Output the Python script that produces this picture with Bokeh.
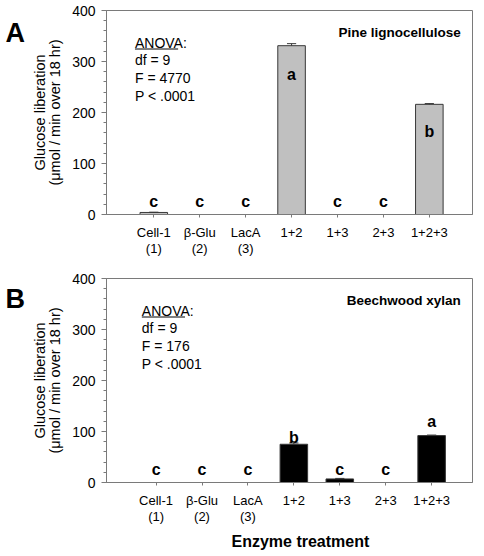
from bokeh.plotting import figure
from bokeh.models import Label, FixedTicker, Range1d, Title
from bokeh.layouts import column, row
from bokeh.embed import file_html
from bokeh.resources import INLINE

categories = ["Cell-1\n(1)", "β-Glu\n(2)", "LacA\n(3)", "1+2", "1+3", "2+3", "1+2+3"]
positions = [1, 2, 3, 4, 5, 6, 7]

pine_glucose = [4, 0, 0, 331, 0, 0, 216]
pine_error = [0.5, 0, 0, 4, 0, 0, 1.5]
pine_letters = ["c", "c", "c", "a", "c", "c", "b"]
pine_letter_y = [25, 25, 25, 275, 25, 25, 162]

beech_glucose = [0, 0, 0, 75, 7, 0, 92]
beech_error = [0, 0, 0, 2.5, 1, 0, 1]
beech_letters = ["c", "c", "c", "b", "c", "c", "a"]
beech_letter_y = [25, 25, 25, 88, 25, 25, 120]

y_ticks = [0, 100, 200, 300, 400]
y_minor = list(range(0, 401, 20))

FONT = "Liberation Sans"
FRAME_H = 204
FRAME_W = 373
YMAX = 400
AXIS_GRAY = "#7a7a7a"


def letter_fig(tag, height, top, bottom, baseline_from_frame_top):
    # its frame is aligned with the neighbouring panel's frame in the row
    f = figure(width=28, height=height, output_backend="svg", toolbar_location=None,
               title=None, x_axis_location=None, y_axis_location=None,
               x_range=Range1d(0, 1), y_range=Range1d(0, 1),
               min_border_left=0, min_border_right=0,
               min_border_top=top, min_border_bottom=bottom)
    f.grid.visible = False
    f.outline_line_color = None
    f.add_layout(Label(x=5, y=FRAME_H - baseline_from_frame_top, x_units="screen",
                       y_units="screen", text=tag, text_align="left",
                       text_baseline="alphabetic", text_font=FONT, text_font_size="27px",
                       text_font_style="bold", text_color="black"))
    return f


def make_panel(vals, errs, letters, letter_y, fill, substrate, anova,
               xr, height, top, bottom, xlabel, anova_px):
    p = figure(width=446, height=height, output_backend="svg", toolbar_location=None,
               x_range=Range1d(*xr), y_range=Range1d(0, YMAX),
               min_border_left=71, min_border_right=2,
               min_border_top=top, min_border_bottom=bottom)
    p.grid.visible = False
    p.outline_line_color = AXIS_GRAY
    p.outline_line_width = 1

    def dx(px):  # pixels from frame left -> data x
        return xr[0] + px * (xr[1] - xr[0]) / FRAME_W

    def dy(px):  # pixels from frame top -> data y
        return YMAX * (1 - px / FRAME_H)

    bx = [x for x, v in zip(positions, vals) if v > 0]
    bt = [v for v in vals if v > 0]
    p.vbar(x=bx, top=bt, width=0.6, fill_color=fill, line_color="#383838", line_width=1)

    ex = [x for x, e in zip(positions, errs) if e > 0]
    ev = [v for v, e in zip(vals, errs) if e > 0]
    ee = [v + e for v, e in zip(vals, errs) if e > 0]
    cap = 0.1
    p.segment(x0=ex, y0=ev, x1=ex, y1=ee, line_color="#383838", line_width=1)
    p.segment(x0=[x - cap for x in ex], y0=ee, x1=[x + cap for x in ex], y1=ee,
              line_color="#383838", line_width=1)

    for x, t, y in zip(positions, letters, letter_y):
        p.add_layout(Label(x=x, y=y, text=t, text_align="center", text_baseline="alphabetic",
                           text_font=FONT, text_font_size="16px", text_font_style="bold",
                           text_color="black"))

    # y axis
    ya = p.yaxis[0]
    ya.ticker = FixedTicker(ticks=y_ticks, minor_ticks=y_minor)
    ya.axis_line_color = AXIS_GRAY
    ya.major_tick_line_color = AXIS_GRAY
    ya.minor_tick_line_color = AXIS_GRAY
    ya.major_tick_out = 5
    ya.major_tick_in = 0
    ya.minor_tick_out = 3
    ya.minor_tick_in = 0
    ya.major_label_standoff = 6
    ya.major_label_text_font = FONT
    ya.major_label_text_font_size = "14px"
    ya.major_label_text_color = "black"
    ya.axis_label = "Glucose liberation\n(μmol / min over 18 hr)"
    ya.axis_label_text_font = FONT
    ya.axis_label_text_font_size = "14.5px"
    ya.axis_label_text_font_style = "normal"
    ya.axis_label_text_color = "black"
    ya.axis_label_standoff = 6
    ya.axis_label_text_line_height = 0.95

    # x axis
    xa = p.xaxis[0]
    xa.ticker = FixedTicker(ticks=positions, minor_ticks=[])
    xa.major_label_overrides = {x: c for x, c in zip(positions, categories)}
    xa.axis_line_color = AXIS_GRAY
    xa.major_tick_line_color = AXIS_GRAY
    xa.major_tick_out = 3
    xa.major_tick_in = 0
    xa.minor_tick_out = 0
    xa.minor_tick_in = 0
    xa.major_label_standoff = 7
    xa.major_label_text_font = FONT
    xa.major_label_text_font_size = "13px"
    xa.major_label_text_color = "black"
    xa.major_label_text_line_height = 1.1
    if xlabel:
        t = Title(text=xlabel, align="left", offset=194 - 69, standoff=6,
                  text_font=FONT, text_font_size="16px", text_font_style="bold",
                  text_color="black")
        p.add_layout(t, "below")

    # annotations
    p.add_layout(Label(x=dx(361), y=dy(22), text=substrate, text_align="right",
                       text_baseline="middle", text_font=FONT, text_font_size="13.5px",
                       text_font_style="bold", text_color="black"))
    p.add_layout(Label(x=dx(anova_px), y=dy(24), text="ANOVA:\n" + anova,
                       text_align="left", text_baseline="top", text_font=FONT,
                       text_font_size="14px", text_line_height=1.12, text_color="black"))
    # underline of "ANOVA"
    p.line(x=[dx(anova_px), dx(anova_px + 44)], y=[dy(38.5), dy(38.5)],
           line_color="black", line_width=1)
    return p


pa = make_panel(pine_glucose, pine_error, pine_letters, pine_letter_y, "#c0c0c0",
                "Pine lignocellulose", "df = 9\nF = 4770\nP < .0001",
                (-0.03, 7.94), 270, 10, 56, None, 29)
pb = make_panel(beech_glucose, beech_error, beech_letters, beech_letter_y, "#000000",
                "Beechwood xylan", "df = 9\nF = 176\nP < .0001",
                (-0.08, 7.89), 286, 8, 74, "Enzyme treatment", 36)

la = letter_fig("A", 270, 10, 56, 22)
lb = letter_fig("B", 286, 8, 74, 20)

layout = column(row(la, pa, spacing=0), row(lb, pb, spacing=0), spacing=0)
open("out.html", "w").write(file_html(layout, INLINE))
